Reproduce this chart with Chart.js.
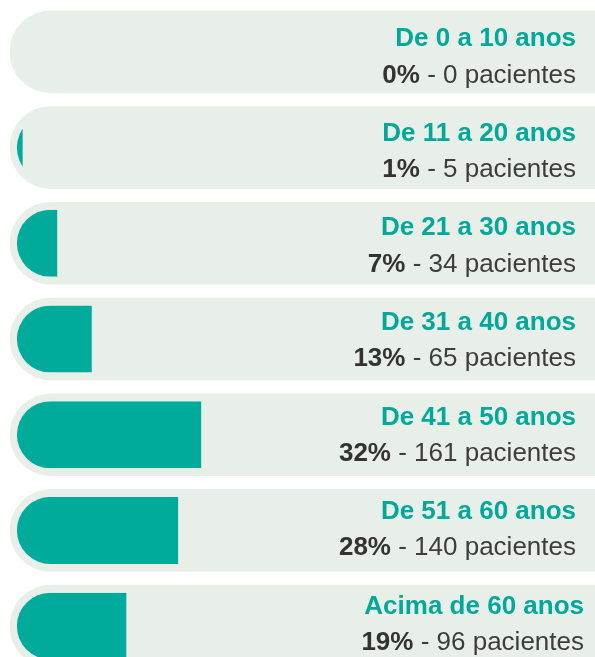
<!DOCTYPE html>
<html>
<head>
<meta charset="utf-8">
<script src="https://cdn.jsdelivr.net/npm/chart.js@4/dist/chart.umd.min.js"></script>
<style>
  html, body { margin: 0; padding: 0; background: #fff; overflow: hidden; }
  #wrap { width: 595px; height: 680px; position: relative; }
</style>
</head>
<body>
<div id="wrap"><canvas id="chart"></canvas></div>
<script>
const faixas = ['De 0 a 10 anos', 'De 11 a 20 anos', 'De 21 a 30 anos', 'De 31 a 40 anos',
  'De 41 a 50 anos', 'De 51 a 60 anos', 'Acima de 60 anos'];
const percentuais = [0, 1, 7, 13, 32, 28, 19];
const pacientes = [0, 5, 34, 65, 161, 140, 96];

const TEAL = '#00ab9b';
const TRACK = '#e8efe8';
const X_MIN = -1.2;
const X_MAX = 100.4;

// teal bars: full round left end, clipped at the value (like the original CSS)
const roundedFill = {
  id: 'roundedFill',
  afterDatasetDraw(chart, args) {
    if (args.index !== 1) return;
    const ctx = chart.ctx;
    args.meta.data.forEach(bar => {
      const { x, y, base, height } = bar.getProps(['x', 'y', 'base', 'height'], true);
      const w = x - base;
      if (w <= 0) return;
      const top = y - height / 2;
      ctx.save();
      ctx.beginPath();
      ctx.rect(base, top, w, height);
      ctx.clip();
      ctx.beginPath();
      ctx.roundRect(base, top, Math.max(w, height) + height, height, [height / 2, 0, 0, height / 2]);
      ctx.fillStyle = TEAL;
      ctx.fill();
      ctx.restore();
    });
  }
};

const rowLabels = {
  id: 'rowLabels',
  afterDraw(chart) {
    const ctx = chart.ctx;
    const yScale = chart.scales.y;
    ctx.save();
    ctx.textAlign = 'right';
    ctx.textBaseline = 'alphabetic';
    faixas.forEach((faixa, i) => {
      const cy = yScale.getPixelForValue(i);
      const right = i === faixas.length - 1 ? 584 : 576;
      // text block drifts up a little relative to the tracks in the original
      const yTitle = cy - 6 - 1.0 * i;
      const yLine = cy + 31 - 1.2 * i;

      ctx.font = 'bold 26px "Liberation Sans", Arial, sans-serif';
      ctx.fillStyle = '#00a99a';
      ctx.fillText(faixa, right, yTitle);

      const rest = ' - ' + pacientes[i] + ' pacientes';
      ctx.font = '26px "Liberation Sans", Arial, sans-serif';
      ctx.fillStyle = '#3d3d3d';
      ctx.fillText(rest, right, yLine);
      const restW = ctx.measureText(rest).width;
      ctx.font = 'bold 26px "Liberation Sans", Arial, sans-serif';
      ctx.fillStyle = '#333333';
      ctx.fillText(percentuais[i] + '%', right - restW, yLine);
    });
    ctx.restore();
  }
};

new Chart(document.getElementById('chart'), {
  type: 'bar',
  data: {
    labels: faixas,
    datasets: [
      {
        label: 'fundo',
        data: faixas.map(() => [X_MIN, X_MAX]),
        backgroundColor: TRACK,
        barThickness: 82,
        borderSkipped: false,
        borderRadius: { topLeft: 41, bottomLeft: 41, topRight: 0, bottomRight: 0 },
        grouped: false,
        order: 2
      },
      {
        label: 'Pacientes (%)',
        data: percentuais,
        backgroundColor: 'rgba(0,0,0,0)',
        barThickness: 67,
        grouped: false,
        order: 1
      }
    ]
  },
  options: {
    indexAxis: 'y',
    responsive: true,
    maintainAspectRatio: false,
    animation: false,
    layout: { padding: { left: 10, right: 0, top: 4, bottom: 6 } },
    scales: {
      x: { display: false, min: X_MIN, max: X_MAX },
      y: { display: false }
    },
    plugins: {
      legend: { display: false },
      tooltip: { enabled: false }
    }
  },
  plugins: [roundedFill, rowLabels]
});
</script>
</body>
</html>
